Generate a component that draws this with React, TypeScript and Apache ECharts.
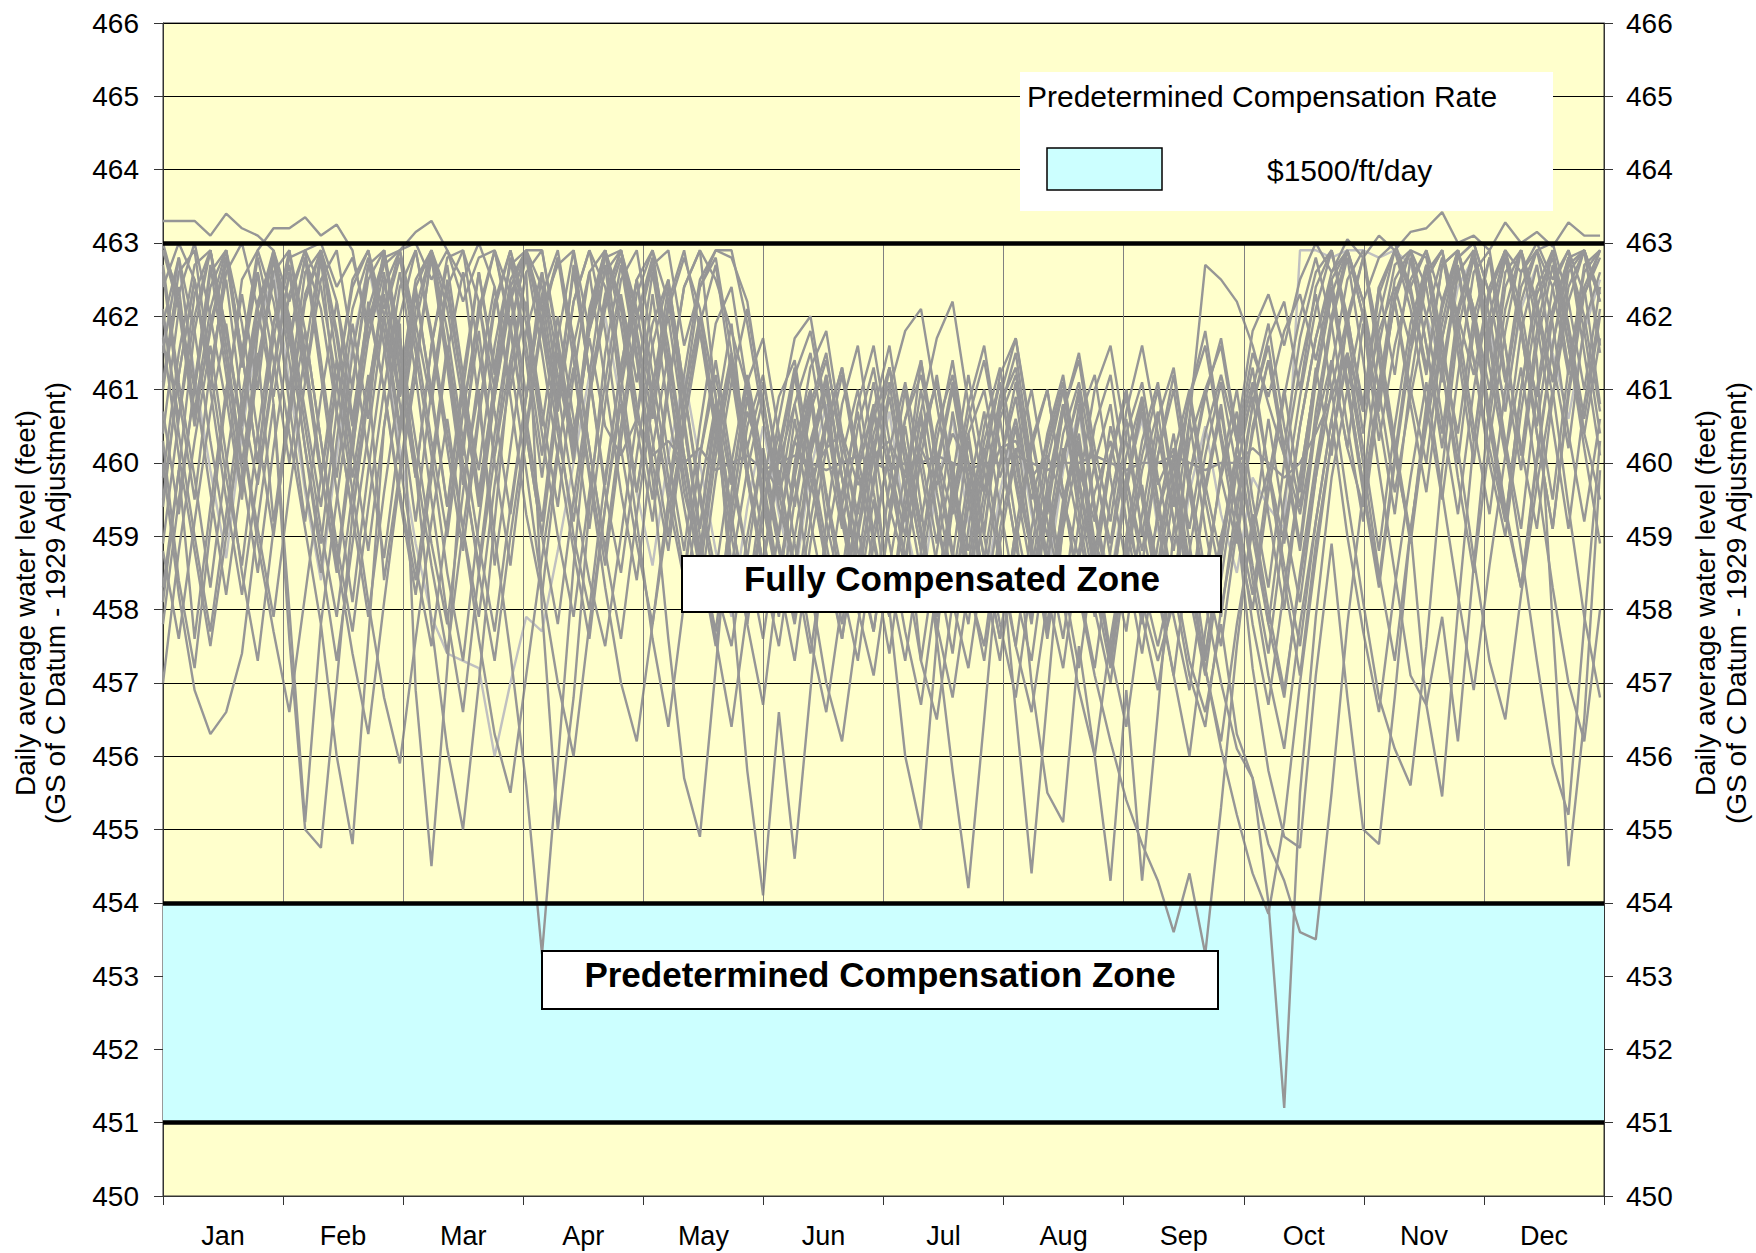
import React, { useEffect, useRef } from "react";
import * as echarts from "echarts";

// ---------- labels & levels ----------
const monthLabels = ["Jan", "Feb", "Mar", "Apr", "May", "Jun", "Jul", "Aug", "Sep", "Oct", "Nov", "Dec"];
const yMin = 450;
const yMax = 466;
const thresholdLevels = [463, 454, 451];
const compensationBand = [451, 454];
const gridBandLow = 454;
const gridBandHigh = 463;
const monthBoundaries = [1, 2, 3, 4, 5, 6, 7, 8, 9, 10, 11];
const sampleStepDays = 4;
const daysPerYear = 365;

// ---------- daily average water level traces (feet), one value every 4 days ----------
const trace01 = [463.3, 463.3, 463.3, 463.1, 463.4, 463.2, 463.1, 462.9,
  462.2, 462.9, 463.0, 462.4, 462.8, 461.9, 462.7, 462.9,
  463.0, 462.5, 462.9, 462.2, 462.8, 462.9, 462.3, 462.8,
  462.1, 462.7, 462.9, 461.8, 462.6, 462.9, 462.0, 462.7,
  462.9, 461.6, 462.4, 462.8, 461.5, 460.2, 461.1, 460.0,
  460.8, 459.6, 460.5, 461.3, 459.9, 460.7, 459.4, 460.6,
  461.2, 460.1, 459.3, 460.4, 461.0, 459.8, 460.6, 459.5,
  460.3, 461.1, 459.9, 459.2, 460.5, 459.6, 460.8, 459.7,
  460.2, 459.1, 460.4, 461.2, 460.3, 461.5, 460.9, 461.8,
  462.3, 461.4, 462.5, 462.9, 462.2, 462.8, 463.0, 462.4,
  462.9, 462.2, 462.8, 463.0, 462.3, 462.9, 462.6, 463.0,
  462.5, 462.9, 462.3, 462.8];
const trace02 = [461.0, 462.4, 460.6, 461.8, 462.8, 461.5, 462.9, 463.2,
  463.2, 463.35, 463.1, 463.25, 462.9, 461.7, 462.6, 460.9,
  462.3, 461.0, 459.4, 461.2, 462.6, 461.3, 462.8, 461.4,
  459.8, 461.5, 460.0, 462.1, 462.9, 461.2, 459.6, 461.0,
  462.4, 460.6, 459.1, 460.8, 459.3, 460.9, 459.6, 458.4,
  459.8, 460.9, 459.2, 458.2, 459.9, 460.8, 459.4, 458.6,
  460.1, 458.9, 460.7, 459.5, 458.3, 460.0, 461.1, 459.7,
  458.6, 460.2, 459.1, 457.9, 459.5, 460.6, 459.0, 460.4,
  459.2, 458.0, 459.6, 460.7, 459.3, 458.2, 459.8, 461.0,
  459.6, 461.3, 460.1, 462.0, 460.7, 462.4, 461.2, 462.8,
  461.6, 460.4, 462.1, 462.9, 461.3, 460.1, 461.8, 462.7,
  461.4, 460.2, 461.9, 462.6];
const trace03 = [460.4, 462.1, 461.0, 462.7, 461.2, 459.6, 461.3, 462.5,
  460.8, 459.2, 460.9, 462.2, 461.0, 462.7, 462.1, 462.9,
  463.15, 463.3, 462.9, 462.5, 463.0, 462.4, 461.0, 462.2,
  460.5, 462.0, 460.6, 459.1, 460.8, 462.3, 461.1, 462.6,
  461.2, 459.6, 458.7, 460.3, 461.4, 459.9, 458.6, 459.9,
  458.5, 460.1, 461.0, 459.3, 458.1, 459.5, 457.9, 459.6,
  461.0, 459.6, 458.4, 459.8, 458.0, 459.4, 460.5, 458.9,
  457.6, 459.1, 460.2, 458.6, 457.3, 458.9, 457.8, 459.3,
  460.4, 458.9, 457.4, 458.8, 460.1, 459.0, 460.6, 459.2,
  458.1, 459.8, 461.4, 460.2, 461.9, 460.3, 461.6, 462.5,
  462.9, 461.5, 460.4, 462.0, 462.8, 461.2, 459.9, 461.6,
  462.7, 461.3, 462.4, 460.8];
const trace04 = [462.6, 460.9, 459.5, 461.3, 462.5, 460.8, 459.7, 461.2,
  462.6, 461.1, 462.8, 460.7, 459.3, 460.9, 462.0, 460.5,
  462.4, 460.9, 459.4, 461.0, 462.6, 461.2, 462.8, 461.6,
  460.1, 461.7, 462.9, 461.2, 462.7, 460.9, 459.6, 461.1,
  462.0, 460.5, 459.1, 460.6, 458.6, 459.9, 460.9, 459.4,
  458.6, 460.2, 461.2, 459.8, 458.5, 459.7, 460.9, 459.6,
  461.4, 459.9, 458.7, 460.3, 459.0, 460.8, 461.3, 459.8,
  458.7, 460.0, 461.0, 459.4, 458.2, 459.8, 458.8, 460.1,
  461.2, 459.8, 460.9, 461.7, 460.4, 461.8, 462.3, 461.6,
  462.5, 463.0, 462.6, 463.05, 462.8, 463.1, 462.9, 463.15,
  463.2, 463.42, 463.0, 463.1, 462.9, 463.28, 463.0, 463.15,
  462.95, 463.28, 463.1, 463.1];
const trace05 = [459.4, 461.2, 462.5, 461.0, 462.8, 461.5, 460.0, 461.9,
  462.7, 461.3, 459.8, 461.4, 460.1, 462.2, 461.0, 459.6,
  458.4, 460.0, 461.6, 460.1, 462.2, 460.7, 459.3, 460.9,
  462.3, 460.8, 462.7, 461.2, 459.7, 461.3, 462.5, 460.9,
  459.5, 458.4, 460.1, 461.2, 459.8, 458.7, 460.2, 459.0,
  460.6, 459.2, 458.1, 459.6, 460.7, 459.0, 457.9, 459.4,
  457.3, 458.8, 460.0, 458.3, 457.5, 459.1, 460.2, 458.7,
  457.8, 459.5, 460.4, 458.9, 458.4, 459.6, 458.1, 457.3,
  458.1, 460.6, 462.7, 462.5, 462.2, 461.6, 460.8, 460.1,
  459.3, 460.5, 461.4, 460.2, 459.4, 461.1, 462.2, 461.0,
  460.0, 461.7, 462.7, 461.4, 460.2, 459.2, 461.0, 462.3,
  462.8, 461.6, 460.4, 461.7];
const trace06 = [458.3, 459.9, 457.6, 459.4, 461.0, 462.3, 461.0, 462.8,
  461.4, 459.7, 458.5, 460.3, 461.9, 460.6, 462.5, 461.2,
  459.8, 461.6, 462.7, 461.2, 459.6, 461.1, 462.4, 460.9,
  462.6, 461.4, 460.4, 461.7, 460.5, 460.1, 460.6, 460.1,
  460.3, 460.0, 460.2, 459.9, 460.0, 460.1, 459.9, 460.0,
  460.1, 460.0, 459.9, 460.0, 460.1, 460.0, 459.9, 460.0,
  460.0, 460.1, 460.0, 459.9, 460.0, 460.0, 460.1, 460.0,
  459.9, 460.0, 460.0, 460.1, 460.0, 459.9, 460.0, 460.0,
  460.1, 460.0, 459.9, 460.0, 460.0, 460.2, 460.0, 459.8,
  460.0, 460.4, 460.9, 461.5, 460.7, 461.8, 462.4, 461.6,
  462.6, 462.9, 462.0, 461.2, 462.4, 462.9, 461.8, 460.9,
  462.1, 462.8, 462.9, 462.2];
const trace07 = [461.9, 462.8, 461.1, 459.6, 458.2, 459.8, 461.4, 462.6,
  462.9, 461.5, 459.9, 458.6, 460.4, 461.9, 462.8, 461.7,
  460.3, 458.9, 457.8, 459.6, 461.2, 462.4, 460.9, 459.3,
  458.2, 460.1, 461.6, 462.6, 461.1, 459.6, 458.4, 460.2,
  461.5, 460.1, 458.8, 457.7, 459.4, 460.7, 460.0, 459.6,
  460.3, 459.8, 460.2, 460.4, 459.7, 460.1, 460.3, 459.8,
  460.2, 459.7, 460.4, 460.0, 459.6, 460.2, 460.3, 459.8,
  460.1, 459.5, 458.7, 459.6, 460.3, 459.2, 458.4, 457.5,
  458.5, 457.3, 456.6, 457.8, 456.3, 455.7, 454.0, 451.2,
  455.5, 457.9, 459.8, 461.0, 462.1, 461.0, 459.6, 460.9,
  462.0, 462.8, 461.9, 460.5, 459.3, 461.0, 462.4, 462.9,
  461.9, 460.4, 459.2, 460.6];
const trace08 = [462.9, 462.1, 460.5, 461.9, 462.8, 461.3, 462.6, 461.4,
  460.0, 461.5, 462.9, 462.2, 460.6, 462.1, 461.0, 459.5,
  458.2, 459.8, 461.5, 462.6, 460.8, 459.0, 457.4, 455.6,
  453.3, 455.9, 458.6, 460.9, 462.1, 462.8, 461.5, 460.0,
  458.8, 460.5, 461.8, 460.6, 461.9, 459.9, 458.6, 460.1,
  461.2, 459.8, 458.6, 457.6, 459.0, 460.2, 461.3, 460.0,
  458.8, 457.7, 459.4, 460.6, 461.4, 460.2, 458.9, 457.9,
  459.5, 460.8, 459.5, 458.3, 457.2, 458.8, 460.1, 461.0,
  459.6, 458.2, 457.1, 458.7, 460.2, 460.9, 459.3, 458.0,
  459.8, 461.2, 462.4, 461.1, 459.7, 461.6, 462.7, 462.9,
  461.6, 460.2, 462.0, 462.9, 461.7, 460.3, 459.1, 461.0,
  462.4, 462.9, 461.5, 460.1];
const trace09 = [460.3, 458.4, 457.2, 459.1, 460.9, 459.5, 461.8, 462.9,
  461.6, 462.8, 461.2, 459.6, 458.1, 459.9, 461.5, 462.6,
  461.2, 462.9, 461.4, 459.9, 458.6, 460.4, 461.9, 462.8,
  461.5, 460.1, 458.8, 457.6, 459.4, 461.0, 462.3, 462.9,
  461.4, 460.0, 458.7, 457.5, 459.1, 460.5, 461.2, 459.8,
  458.6, 457.4, 458.9, 460.1, 461.0, 459.6, 458.4, 457.3,
  458.8, 460.0, 461.1, 459.8, 458.7, 457.6, 459.1, 460.3,
  461.0, 459.6, 458.2, 457.1, 456.2, 455.4, 454.8, 454.3,
  453.6, 454.4, 453.3, 455.3, 457.5, 459.3, 458.0, 456.9,
  458.4, 459.8, 461.0, 462.0, 462.8, 461.4, 460.1, 459.0,
  460.7, 461.9, 462.9, 461.9, 460.5, 459.2, 461.0, 462.4,
  462.9, 461.6, 460.2, 458.9];
const trace10 = [461.7, 460.1, 458.8, 457.5, 459.0, 460.6, 461.9, 462.8,
  461.7, 460.2, 458.7, 457.3, 458.9, 460.4, 462.0, 462.8,
  461.5, 460.1, 458.5, 457.3, 459.2, 460.9, 462.2, 462.9,
  462.1, 460.6, 459.0, 458.0, 459.8, 461.3, 462.5, 461.2,
  459.8, 458.5, 460.1, 461.4, 460.0, 458.7, 457.6, 459.1,
  460.3, 461.0, 459.5, 458.3, 457.3, 458.9, 460.2, 461.1,
  459.9, 458.6, 457.4, 459.1, 460.5, 461.3, 460.0, 458.8,
  457.7, 459.3, 460.6, 461.2, 459.8, 458.6, 457.4, 458.9,
  460.0, 458.4, 457.2, 456.1, 455.2, 454.4, 453.85, 455.1,
  457.0, 458.7, 460.3, 461.5, 460.2, 458.8, 460.5, 461.9,
  462.7, 461.3, 460.0, 461.8, 462.8, 461.6, 460.2, 459.1,
  460.9, 462.2, 462.9, 461.5];
const trace11 = [458.1, 459.9, 461.8, 462.9, 461.6, 460.0, 461.5, 459.2,
  460.8, 462.3, 462.9, 461.4, 459.8, 461.2, 458.4, 459.9,
  461.4, 462.8, 461.3, 459.7, 461.0, 458.6, 460.2, 461.8,
  462.6, 461.0, 459.6, 458.4, 457.5, 459.0, 460.6, 461.9,
  462.5, 461.0, 459.6, 458.5, 460.0, 461.2, 460.0, 458.8,
  457.8, 459.2, 460.5, 461.3, 460.1, 458.9, 457.9, 459.4,
  460.6, 459.3, 458.1, 457.2, 458.7, 460.0, 460.9, 459.4,
  458.2, 457.2, 458.8, 460.0, 460.8, 459.2, 457.9, 456.9,
  458.4, 459.7, 458.1, 457.0, 456.1, 455.7, 454.8, 454.3,
  453.6, 453.5, 455.5, 457.8, 459.6, 461.0, 462.2, 460.8,
  459.6, 461.3, 462.6, 461.4, 460.0, 459.0, 460.7, 462.1,
  462.9, 461.8, 460.4, 459.5];
const trace12 = [460.0, 458.2, 456.9, 456.3, 456.6, 457.4, 459.2, 460.8,
  457.6, 455.0, 454.75, 457.0, 459.3, 461.0, 462.3, 460.8,
  459.2, 461.0, 462.5, 461.0, 459.4, 460.9, 462.3, 460.6,
  459.2, 461.0, 462.6, 461.2, 459.6, 458.5, 460.1, 461.6,
  462.5, 461.0, 459.5, 458.3, 457.5, 459.0, 460.2, 458.9,
  457.9, 459.6, 460.6, 459.2, 458.0, 457.1, 458.6, 459.9,
  460.7, 459.2, 458.1, 459.6, 460.7, 459.4, 458.2, 457.3,
  458.9, 460.1, 460.9, 459.4, 458.1, 459.7, 460.7, 459.2,
  457.9, 456.9, 458.5, 459.8, 460.7, 459.2, 457.8, 456.8,
  458.5, 460.0, 461.3, 462.5, 462.9, 461.5, 460.2, 458.9,
  460.6, 462.1, 462.9, 462.0, 460.6, 459.3, 458.3, 460.0,
  461.6, 462.7, 462.9, 461.6];
const trace13 = [462.7, 461.1, 459.8, 458.3, 460.0, 461.5, 462.6, 460.8,
  458.0, 455.1, 457.8, 456.0, 454.8, 457.6, 460.5, 461.9,
  456.9, 454.5, 457.2, 460.3, 461.8, 460.0, 458.6, 460.4,
  461.9, 462.8, 461.4, 459.9, 458.6, 460.3, 461.8, 462.7,
  461.2, 459.8, 458.5, 460.1, 461.3, 459.8, 458.5, 457.5,
  459.0, 460.3, 461.1, 459.8, 458.6, 457.7, 459.2, 460.5,
  459.1, 457.8, 456.8, 458.3, 459.6, 460.6, 459.2, 458.1,
  459.7, 460.8, 459.3, 458.0, 457.0, 458.6, 459.9, 460.7,
  459.2, 458.0, 459.7, 460.8, 459.3, 457.8, 456.7, 458.3,
  459.8, 461.2, 462.3, 461.0, 459.6, 458.3, 460.0, 461.5,
  462.5, 462.9, 461.5, 460.0, 461.7, 462.8, 461.8, 460.4,
  459.1, 461.0, 462.4, 462.9];
const trace14 = [459.5, 461.2, 462.5, 461.0, 459.5, 458.2, 459.8, 461.3,
  462.6, 461.4, 459.9, 458.5, 460.2, 461.7, 462.9, 461.7,
  459.9, 457.8, 456.1, 455.0, 457.0, 459.2, 461.4, 462.6,
  458.0, 455.0, 456.8, 459.4, 461.5, 462.7, 461.4, 459.8,
  457.6, 455.7, 454.9, 457.2, 459.6, 461.1, 459.8, 458.4,
  457.3, 458.9, 460.2, 461.2, 459.9, 458.6, 457.4, 459.0,
  460.3, 461.1, 459.7, 458.4, 457.3, 458.9, 460.1, 461.0,
  459.7, 458.4, 457.2, 458.8, 460.1, 461.0, 459.5, 458.2,
  457.1, 458.8, 460.1, 461.1, 459.9, 458.6, 457.4, 459.1,
  460.5, 461.7, 462.5, 461.1, 459.7, 458.4, 460.1, 461.7,
  462.7, 461.3, 459.8, 458.5, 460.3, 461.8, 462.9, 461.9,
  460.5, 459.1, 460.8, 462.1];
const trace15 = [463.0, 462.2, 460.7, 462.1, 462.9, 461.4, 462.8, 461.8,
  460.4, 459.1, 457.8, 459.5, 461.1, 462.5, 462.9, 461.5,
  460.0, 458.6, 457.4, 459.1, 460.7, 462.2, 462.9, 462.1,
  460.7, 459.4, 461.2, 462.6, 462.9, 461.9, 460.5, 459.2,
  461.0, 462.4, 462.9, 460.9, 458.2, 455.8, 454.1, 456.6,
  454.6, 456.9, 459.2, 460.8, 461.6, 460.1, 458.0, 456.0,
  455.0, 457.6, 459.8, 461.2, 459.9, 458.6, 457.5, 459.1,
  460.4, 461.2, 459.8, 458.5, 457.4, 459.0, 460.3, 461.1,
  459.7, 458.4, 457.3, 458.9, 460.2, 461.3, 459.9, 458.6,
  457.5, 459.2, 460.6, 461.9, 462.8, 461.7, 460.3, 459.0,
  460.8, 462.2, 462.9, 462.1, 460.7, 459.4, 458.3, 460.1,
  461.6, 462.8, 462.0, 460.7];
const trace16 = [461.1, 462.6, 462.9, 461.3, 459.8, 458.6, 460.4, 461.9,
  462.9, 461.8, 460.3, 458.9, 457.7, 459.4, 461.0, 462.4,
  462.9, 461.7, 460.2, 458.8, 460.6, 462.1, 462.9, 461.9,
  460.4, 459.0, 457.9, 459.6, 461.1, 462.5, 462.9, 461.6,
  460.1, 458.8, 460.5, 461.9, 462.4, 461.0, 459.5, 458.3,
  460.0, 461.3, 461.8, 460.4, 459.1, 458.0, 459.7, 461.0,
  459.4, 457.6, 455.8, 454.2, 456.5, 458.9, 456.6, 454.4,
  456.8, 459.2, 460.8, 459.3, 458.1, 459.7, 460.9, 459.4,
  458.2, 459.8, 461.0, 461.6, 460.3, 459.0, 457.8, 459.5,
  460.9, 462.1, 462.9, 461.8, 460.4, 462.0, 462.9, 462.1,
  460.8, 459.5, 461.2, 462.6, 462.9, 461.6, 460.1, 461.8,
  462.9, 461.9, 460.6, 462.0];
const trace17 = [457.8, 459.5, 461.0, 462.4, 462.9, 461.9, 460.4, 459.0,
  460.7, 462.2, 462.9, 461.7, 460.2, 458.8, 460.5, 462.0,
  462.9, 461.8, 460.4, 459.1, 457.9, 459.7, 461.2, 462.6,
  462.9, 461.6, 460.1, 461.9, 462.9, 462.1, 460.6, 462.3,
  460.7, 459.4, 458.2, 459.8, 461.1, 462.1, 460.8, 459.6,
  458.5, 460.1, 461.2, 459.8, 458.6, 460.1, 461.3, 460.0,
  458.8, 460.3, 461.4, 460.0, 458.7, 457.6, 459.1, 457.0,
  455.5, 455.1, 457.5, 456.0, 454.3, 456.9, 454.3, 456.6,
  459.1, 460.6, 459.1, 457.9, 459.5, 460.8, 461.6, 460.2,
  458.9, 460.7, 462.0, 462.9, 462.0, 460.6, 459.3, 461.1,
  462.5, 462.9, 461.7, 460.3, 462.0, 462.9, 462.1, 460.8,
  459.5, 461.3, 462.6, 462.9];
const trace18 = [462.1, 460.4, 459.0, 457.7, 459.3, 460.9, 462.2, 462.8,
  461.8, 460.2, 458.9, 460.7, 462.1, 462.8, 461.6, 460.0,
  458.6, 457.5, 459.2, 460.7, 462.0, 462.9, 461.9, 460.4,
  459.0, 460.8, 462.2, 462.9, 461.8, 460.2, 458.9, 457.8,
  459.5, 460.9, 462.0, 460.6, 459.2, 458.1, 459.7, 460.9,
  461.4, 460.0, 458.7, 457.6, 459.1, 460.4, 461.1, 459.7,
  458.5, 459.9, 461.0, 459.7, 458.4, 457.3, 458.9, 460.2,
  461.0, 459.6, 458.3, 457.2, 458.8, 460.1, 460.9, 459.5,
  458.3, 457.1, 456.4, 458.0, 459.2, 457.2, 455.8, 454.9,
  454.75, 457.1, 458.9, 456.8, 455.0, 454.8, 456.8, 459.1,
  456.7, 455.45, 458.0, 460.3, 461.8, 462.8, 461.9, 460.5,
  462.0, 462.8, 461.8, 460.4];
const trace19 = [461.5, 462.8, 461.8, 460.3, 459.0, 460.7, 462.1, 462.9,
  461.9, 460.5, 459.1, 457.9, 459.6, 461.0, 462.4, 462.9,
  461.7, 460.3, 459.0, 460.7, 462.1, 462.9, 461.8, 460.4,
  459.0, 457.8, 459.5, 461.0, 462.3, 462.9, 461.7, 460.3,
  459.0, 460.7, 461.9, 462.7, 461.2, 459.8, 458.6, 460.2,
  461.3, 460.1, 458.9, 457.8, 459.4, 460.7, 461.6, 460.2,
  459.0, 457.9, 459.5, 460.8, 461.6, 460.2, 458.9, 457.8,
  459.4, 460.7, 461.4, 460.0, 458.7, 457.7, 459.3, 460.6,
  461.3, 459.8, 458.5, 457.5, 459.1, 460.4, 461.4, 460.1,
  458.8, 460.5, 461.9, 462.8, 461.4, 459.9, 458.5, 457.1,
  456.7, 457.9, 456.2, 458.6, 460.8, 462.4, 462.9, 461.4,
  457.8, 454.5, 456.5, 459.9];
const trace20 = [458.9, 460.6, 462.0, 462.9, 461.8, 460.4, 459.1, 457.9,
  459.6, 461.1, 462.5, 462.9, 461.6, 460.1, 458.7, 460.4,
  461.9, 462.9, 461.8, 460.3, 458.9, 457.7, 459.4, 460.9,
  462.3, 462.9, 461.6, 460.2, 458.8, 460.5, 462.0, 462.8,
  461.6, 460.1, 458.8, 460.4, 461.5, 460.2, 459.0, 457.9,
  459.5, 460.8, 461.5, 460.1, 458.8, 457.7, 459.3, 460.6,
  461.4, 460.1, 458.8, 457.8, 459.4, 460.7, 461.5, 460.0,
  458.7, 457.6, 459.2, 460.5, 461.2, 459.8, 458.6, 460.1,
  461.0, 459.6, 458.3, 459.9, 461.0, 459.5, 458.3, 460.0,
  461.3, 462.3, 461.0, 459.5, 458.1, 456.8, 456.1, 455.6,
  457.5, 459.9, 461.8, 462.8, 461.6, 460.2, 458.8, 457.3,
  455.9, 455.2, 457.8, 460.3];
const trace21 = [461.6, 462.7, 461.2, 459.9, 458.7, 460.4, 461.8, 462.6,
  461.1, 459.6, 458.4, 460.1, 461.6, 462.7, 461.6, 460.2,
  458.9, 457.9, 457.4, 457.3, 457.2, 456.0, 457.0, 457.9,
  457.7, 458.8, 460.0, 461.2, 462.0, 460.8, 459.6, 458.6,
  460.1, 461.2, 460.0, 458.8, 457.9, 459.4, 460.5, 459.3,
  458.4, 459.9, 460.8, 459.4, 458.3, 459.8, 460.7, 459.2,
  458.2, 459.7, 460.6, 459.2, 458.1, 459.6, 460.6, 459.3,
  458.4, 459.9, 460.7, 459.3, 458.4, 459.8, 460.6, 459.1,
  458.2, 459.6, 460.5, 459.3, 458.5, 459.8, 459.4, 459.1,
  462.9, 462.9, 462.8, 462.9, 462.9, 462.8, 462.9, 462.7,
  462.0, 461.3, 462.4, 462.8, 461.8, 460.8, 462.1, 462.7,
  461.5, 460.6, 461.8, 462.5];
const trace22 = [462.9, 462.3, 463.0, 462.0, 460.8, 462.5, 462.9, 462.2,
  461.0, 462.6, 462.9, 461.8, 460.5, 462.1, 462.8, 462.9,
  461.9, 460.8, 462.4, 462.9, 462.2, 461.0, 462.5, 462.9,
  462.4, 461.2, 460.2, 461.8, 462.8, 462.9, 461.8, 460.6,
  462.1, 462.8, 462.1, 460.9, 459.7, 461.1, 461.7, 460.4,
  459.4, 460.7, 461.4, 460.3, 459.3, 460.6, 461.3, 460.2,
  459.2, 460.5, 461.2, 460.0, 459.1, 460.6, 461.2, 459.9,
  459.0, 460.4, 461.1, 459.9, 458.9, 460.4, 461.1, 459.8,
  458.8, 460.3, 461.0, 459.8, 458.9, 460.5, 461.4, 460.2,
  461.7, 462.6, 462.9, 461.9, 460.8, 462.4, 462.9, 462.3,
  461.2, 462.7, 462.9, 462.1, 461.0, 462.6, 462.9, 462.2,
  461.1, 462.6, 462.9, 462.3];
const trace23 = [460.7, 459.3, 461.1, 462.6, 462.9, 461.5, 460.0, 461.7,
  462.8, 462.9, 461.4, 459.8, 461.5, 462.7, 462.9, 461.3,
  459.8, 461.6, 462.8, 462.9, 461.5, 460.1, 461.8, 462.9,
  462.9, 461.7, 460.3, 462.0, 462.9, 462.2, 460.8, 459.5,
  461.1, 462.4, 462.9, 462.5, 461.8, 461.0, 459.4, 458.3,
  459.9, 461.0, 459.6, 458.5, 460.0, 461.1, 459.8, 458.7,
  460.1, 461.2, 459.8, 458.6, 460.1, 461.1, 459.7, 458.5,
  460.0, 461.0, 459.7, 458.5, 460.0, 461.0, 459.6, 458.5,
  459.8, 460.9, 459.5, 458.4, 459.9, 461.0, 461.9, 460.5,
  459.4, 461.1, 462.3, 462.9, 462.0, 460.7, 462.3, 462.9,
  462.4, 461.1, 462.6, 462.9, 462.0, 460.7, 462.2, 462.9,
  462.4, 461.2, 462.7, 462.9];
const trace24 = [457.0, 458.8, 460.3, 461.6, 460.1, 458.5, 457.3, 459.1,
  460.6, 461.8, 460.3, 458.7, 457.4, 456.3, 458.1, 459.8,
  461.2, 459.5, 457.9, 456.6, 458.5, 460.1, 461.4, 459.9,
  458.3, 457.0, 456.0, 457.8, 459.4, 460.8, 459.2, 457.6,
  456.4, 458.1, 459.6, 460.8, 459.3, 457.8, 456.7, 458.5,
  459.8, 458.3, 457.0, 456.2, 457.8, 459.1, 460.1, 458.6,
  457.3, 456.5, 458.1, 459.4, 460.2, 458.8, 457.5, 456.6,
  458.1, 459.4, 460.3, 458.8, 457.4, 456.4, 458.0, 459.3,
  460.1, 458.6, 457.2, 456.2, 457.8, 459.1, 459.9, 458.4,
  457.1, 458.9, 460.3, 461.4, 460.0, 458.5, 457.3, 459.1,
  460.5, 461.7, 460.2, 458.7, 457.3, 456.5, 458.2, 459.7,
  461.0, 459.4, 457.9, 456.8];
const trace25 = [462.0, 460.6, 462.3, 462.9, 461.8, 460.5, 462.1, 462.8,
  462.0, 460.7, 459.4, 461.1, 462.4, 462.9, 461.8, 460.4,
  462.1, 462.9, 462.1, 460.8, 459.5, 461.1, 462.4, 462.9,
  461.8, 460.4, 459.2, 460.9, 462.2, 462.9, 462.1, 460.8,
  459.6, 461.2, 462.5, 462.9, 462.8, 462.2, 460.8, 459.7,
  461.2, 461.8, 460.6, 459.4, 460.8, 461.6, 460.3, 459.2,
  460.7, 461.7, 462.2, 460.8, 459.6, 460.9, 461.7, 460.3,
  459.3, 460.7, 461.5, 460.2, 459.2, 460.7, 461.6, 460.4,
  459.4, 460.9, 461.8, 460.4, 459.3, 460.8, 461.7, 462.2,
  461.0, 462.4, 462.9, 462.0, 460.7, 462.3, 462.9, 462.4,
  461.3, 462.7, 462.9, 461.9, 460.6, 462.1, 462.9, 462.1,
  460.9, 462.4, 462.9, 462.2];
const trace26 = [459.8, 461.5, 462.7, 462.9, 461.4, 459.9, 458.5, 460.2,
  461.7, 462.8, 462.1, 460.7, 459.3, 457.9, 459.6, 461.1,
  462.5, 462.9, 461.5, 460.0, 458.5, 457.3, 459.0, 460.5,
  462.0, 462.8, 461.7, 460.2, 458.8, 457.6, 459.3, 460.8,
  462.2, 462.9, 461.8, 460.4, 459.0, 457.8, 459.3, 460.6,
  461.7, 462.0, 460.7, 459.4, 458.3, 459.8, 461.0, 461.8,
  462.1, 460.8, 459.5, 458.4, 459.9, 461.2, 461.7, 460.4,
  459.2, 458.1, 459.7, 461.0, 461.6, 460.3, 459.1, 458.1,
  459.6, 460.9, 461.6, 460.3, 459.0, 458.0, 459.6, 460.9,
  462.0, 462.8, 461.9, 460.5, 459.2, 460.9, 462.2, 462.9,
  462.0, 460.6, 459.3, 461.0, 462.3, 462.9, 461.8, 460.4,
  459.1, 460.9, 462.3, 462.9];
const trace27 = [458.8, 457.6, 459.2, 460.7, 461.9, 460.4, 458.9, 457.7,
  456.6, 458.2, 459.8, 461.1, 459.6, 458.1, 456.8, 455.9,
  457.6, 459.2, 460.6, 459.1, 457.6, 456.3, 455.5, 457.1,
  458.7, 460.2, 461.3, 459.8, 458.3, 457.0, 456.2, 457.8,
  459.3, 460.5, 459.0, 457.6, 456.4, 458.0, 459.4, 460.4,
  458.9, 457.6, 456.6, 458.1, 459.4, 460.3, 458.9, 457.7,
  456.7, 458.3, 459.6, 460.4, 459.0, 457.8, 456.8, 458.4,
  459.6, 458.1, 456.9, 456.0, 457.6, 458.9, 459.7, 458.3,
  457.1, 456.0, 457.7, 459.0, 459.9, 458.4, 457.1, 456.1,
  457.8, 459.2, 460.6, 459.0, 457.7, 456.6, 458.3, 459.8,
  461.1, 459.6, 458.2, 456.9, 458.6, 460.1, 461.3, 459.8,
  458.3, 457.0, 456.2, 458.0];
const trace28 = [462.4, 463.0, 462.5, 461.2, 462.6, 463.0, 462.1, 460.9,
  462.3, 462.9, 462.4, 461.1, 462.5, 462.9, 462.0, 460.9,
  462.4, 462.9, 462.3, 461.0, 459.9, 461.6, 462.7, 462.9,
  461.9, 460.7, 462.2, 462.9, 462.4, 461.1, 462.5, 462.9,
  462.2, 460.9, 462.4, 462.9, 462.9, 461.9, 460.6, 459.5,
  460.8, 461.5, 460.2, 459.1, 460.5, 461.3, 460.0, 459.0,
  460.4, 461.1, 459.8, 458.8, 460.3, 461.1, 459.8, 458.8,
  460.2, 461.0, 459.7, 458.7, 460.1, 460.9, 459.6, 458.6,
  460.1, 461.0, 459.7, 458.7, 460.2, 461.1, 459.9, 458.9,
  460.5, 461.7, 462.6, 462.9, 462.2, 461.0, 462.5, 462.9,
  462.8, 461.7, 462.8, 463.0, 462.3, 461.1, 462.6, 462.9,
  463.0, 462.2, 461.0, 462.4];

const lightTrace = trace21;
const darkTraces = [trace01, trace02, trace03, trace04, trace05, trace06, trace07, trace08, trace09, trace10,
  trace11, trace12, trace13, trace14, trace15, trace16, trace17, trace18, trace19, trace20,
  trace22, trace23, trace24, trace25, trace26, trace27, trace28];

const FONT = '"Liberation Sans", Arial, Helvetica, sans-serif';

function toPoints(values: number[]) {
  return values.map((v, i) => [(i * sampleStepDays * 12) / daysPerYear, v]);
}

function traceSeries(values: number[], color: string, name: string) {
  return {
    name,
    type: "line",
    xAxisIndex: 0,
    yAxisIndex: 0,
    data: toPoints(values),
    showSymbol: false,
    symbol: "none",
    silent: true,
    lineStyle: { color, width: 2.4 },
    emphasis: { disabled: true },
    z: 3,
  };
}

export default function App() {
  const ref = useRef<HTMLDivElement>(null);

  useEffect(() => {
    document.body.style.margin = "0";
    if (!ref.current) return;
    const chart = echarts.init(ref.current, undefined, { renderer: "svg" });

    const series: any[] = [];
    // Predetermined compensation band (cyan) + vertical month gridlines
    series.push({
      name: "$1500/ft/day",
      type: "line",
      data: [[0, compensationBand[0]], [12, compensationBand[0]]],
      showSymbol: false,
      symbol: "none",
      silent: true,
      lineStyle: { opacity: 0 },
      z: 1,
      markArea: {
        silent: true,
        itemStyle: { color: "#CCFFFF", opacity: 1 },
        data: [[{ yAxis: compensationBand[0] }, { yAxis: compensationBand[1] }]],
      },
      markLine: {
        silent: true,
        symbol: ["none", "none"],
        label: { show: false },
        lineStyle: { color: "#808080", width: 1, type: "solid" },
        emphasis: { disabled: true },
        data: monthBoundaries.map((m) => [{ coord: [m, gridBandLow] }, { coord: [m, gridBandHigh] }]),
      },
    });

    series.push(traceSeries(lightTrace, "#C0C0C0", "trace-light"));
    darkTraces.forEach((t, i) => series.push(traceSeries(t, "#969696", "trace-" + (i + 1))));

    // Thick black threshold lines
    series.push({
      name: "thresholds",
      type: "line",
      data: [[0, thresholdLevels[0]], [12, thresholdLevels[0]]],
      showSymbol: false,
      symbol: "none",
      silent: true,
      lineStyle: { opacity: 0 },
      z: 6,
      markLine: {
        silent: true,
        symbol: ["none", "none"],
        label: { show: false },
        lineStyle: { color: "#000000", width: 4.5, type: "solid" },
        emphasis: { disabled: true },
        data: thresholdLevels.map((v) => ({ yAxis: v })),
      },
    });

    const axisLineStyle = { color: "#333333", width: 1 };

    const option: any = {
      animation: false,
      backgroundColor: "#ffffff",
      textStyle: { fontFamily: FONT },
      grid: {
        left: 163,
        right: 152,
        top: 23,
        bottom: 57,
        show: true,
        backgroundColor: "#FFFFCC",
        borderColor: "#333333",
        borderWidth: 1,
      },
      xAxis: [
        {
          type: "value",
          min: 0,
          max: 12,
          interval: 1,
          position: "bottom",
          axisLine: { show: true, lineStyle: axisLineStyle },
          axisTick: { show: true, length: 9, lineStyle: axisLineStyle },
          axisLabel: { show: false },
          splitLine: { show: false },
        },
        {
          type: "category",
          data: monthLabels,
          position: "bottom",
          boundaryGap: true,
          axisLine: { show: false },
          axisTick: { show: false },
          splitLine: { show: false },
          axisLabel: { interval: 0, margin: 26, fontSize: 27, color: "#000000", fontFamily: FONT },
        },
      ],
      yAxis: [
        {
          type: "value",
          min: yMin,
          max: yMax,
          interval: 1,
          position: "left",
          axisLine: { show: true, lineStyle: axisLineStyle },
          axisTick: { show: true, length: 9, lineStyle: axisLineStyle },
          axisLabel: { margin: 24, fontSize: 28, color: "#000000", fontFamily: FONT },
          splitLine: { show: true, lineStyle: { color: "#000000", width: 1 } },
        },
        {
          type: "value",
          min: yMin,
          max: yMax,
          interval: 1,
          position: "right",
          axisLine: { show: true, lineStyle: axisLineStyle },
          axisTick: { show: true, length: 9, lineStyle: axisLineStyle },
          axisLabel: { margin: 22, fontSize: 28, color: "#000000", fontFamily: FONT },
          splitLine: { show: false },
        },
      ],
      series,
      graphic: [
        // legend box
        { type: "rect", z: 100, shape: { x: 1020, y: 72, width: 533, height: 139 }, style: { fill: "#ffffff" } },
        {
          type: "text", z: 101, x: 1027, y: 96,
          style: { text: "Predetermined Compensation Rate", fontSize: 30, fontFamily: FONT, fill: "#000",
            textAlign: "left", textVerticalAlign: "middle", align: "left", verticalAlign: "middle" },
        },
        { type: "rect", z: 101, shape: { x: 1047, y: 148, width: 115, height: 42 }, style: { fill: "#CCFFFF", stroke: "#000", lineWidth: 1.5 } },
        {
          type: "text", z: 101, x: 1267, y: 170,
          style: { text: "$1500/ft/day", fontSize: 30, fontFamily: FONT, fill: "#000",
            textAlign: "left", textVerticalAlign: "middle", align: "left", verticalAlign: "middle" },
        },
        // zone labels
        { type: "rect", z: 100, shape: { x: 682, y: 556, width: 539, height: 56 }, style: { fill: "#ffffff", stroke: "#000", lineWidth: 2 } },
        {
          type: "text", z: 101, x: 952, y: 578,
          style: { text: "Fully Compensated Zone", fontSize: 35, fontWeight: "bold", fontFamily: FONT, fill: "#000",
            textAlign: "center", textVerticalAlign: "middle", align: "center", verticalAlign: "middle" },
        },
        { type: "rect", z: 100, shape: { x: 542, y: 951, width: 676, height: 58 }, style: { fill: "#ffffff", stroke: "#000", lineWidth: 2 } },
        {
          type: "text", z: 101, x: 880, y: 974,
          style: { text: "Predetermined Compensation Zone", fontSize: 35, fontWeight: "bold", fontFamily: FONT, fill: "#000",
            textAlign: "center", textVerticalAlign: "middle", align: "center", verticalAlign: "middle" },
        },
        // axis titles
        {
          type: "text", z: 101, x: 25, y: 603, rotation: Math.PI / 2,
          style: { text: "Daily average water level (feet)", fontSize: 28, fontFamily: FONT, fill: "#000",
            textAlign: "center", textVerticalAlign: "middle", align: "center", verticalAlign: "middle" },
        },
        {
          type: "text", z: 101, x: 55, y: 603, rotation: Math.PI / 2,
          style: { text: "(GS of C Datum - 1929 Adjustment)", fontSize: 28, fontFamily: FONT, fill: "#000",
            textAlign: "center", textVerticalAlign: "middle", align: "center", verticalAlign: "middle" },
        },
        {
          type: "text", z: 101, x: 1705, y: 603, rotation: Math.PI / 2,
          style: { text: "Daily average water level (feet)", fontSize: 28, fontFamily: FONT, fill: "#000",
            textAlign: "center", textVerticalAlign: "middle", align: "center", verticalAlign: "middle" },
        },
        {
          type: "text", z: 101, x: 1736, y: 603, rotation: Math.PI / 2,
          style: { text: "(GS of C Datum - 1929 Adjustment)", fontSize: 28, fontFamily: FONT, fill: "#000",
            textAlign: "center", textVerticalAlign: "middle", align: "center", verticalAlign: "middle" },
        },
      ],
    };

    chart.setOption(option);
    return () => chart.dispose();
  }, []);

  return <div ref={ref} style={{ position: "fixed", left: 0, top: 0, width: 1756, height: 1253 }} />;
}
